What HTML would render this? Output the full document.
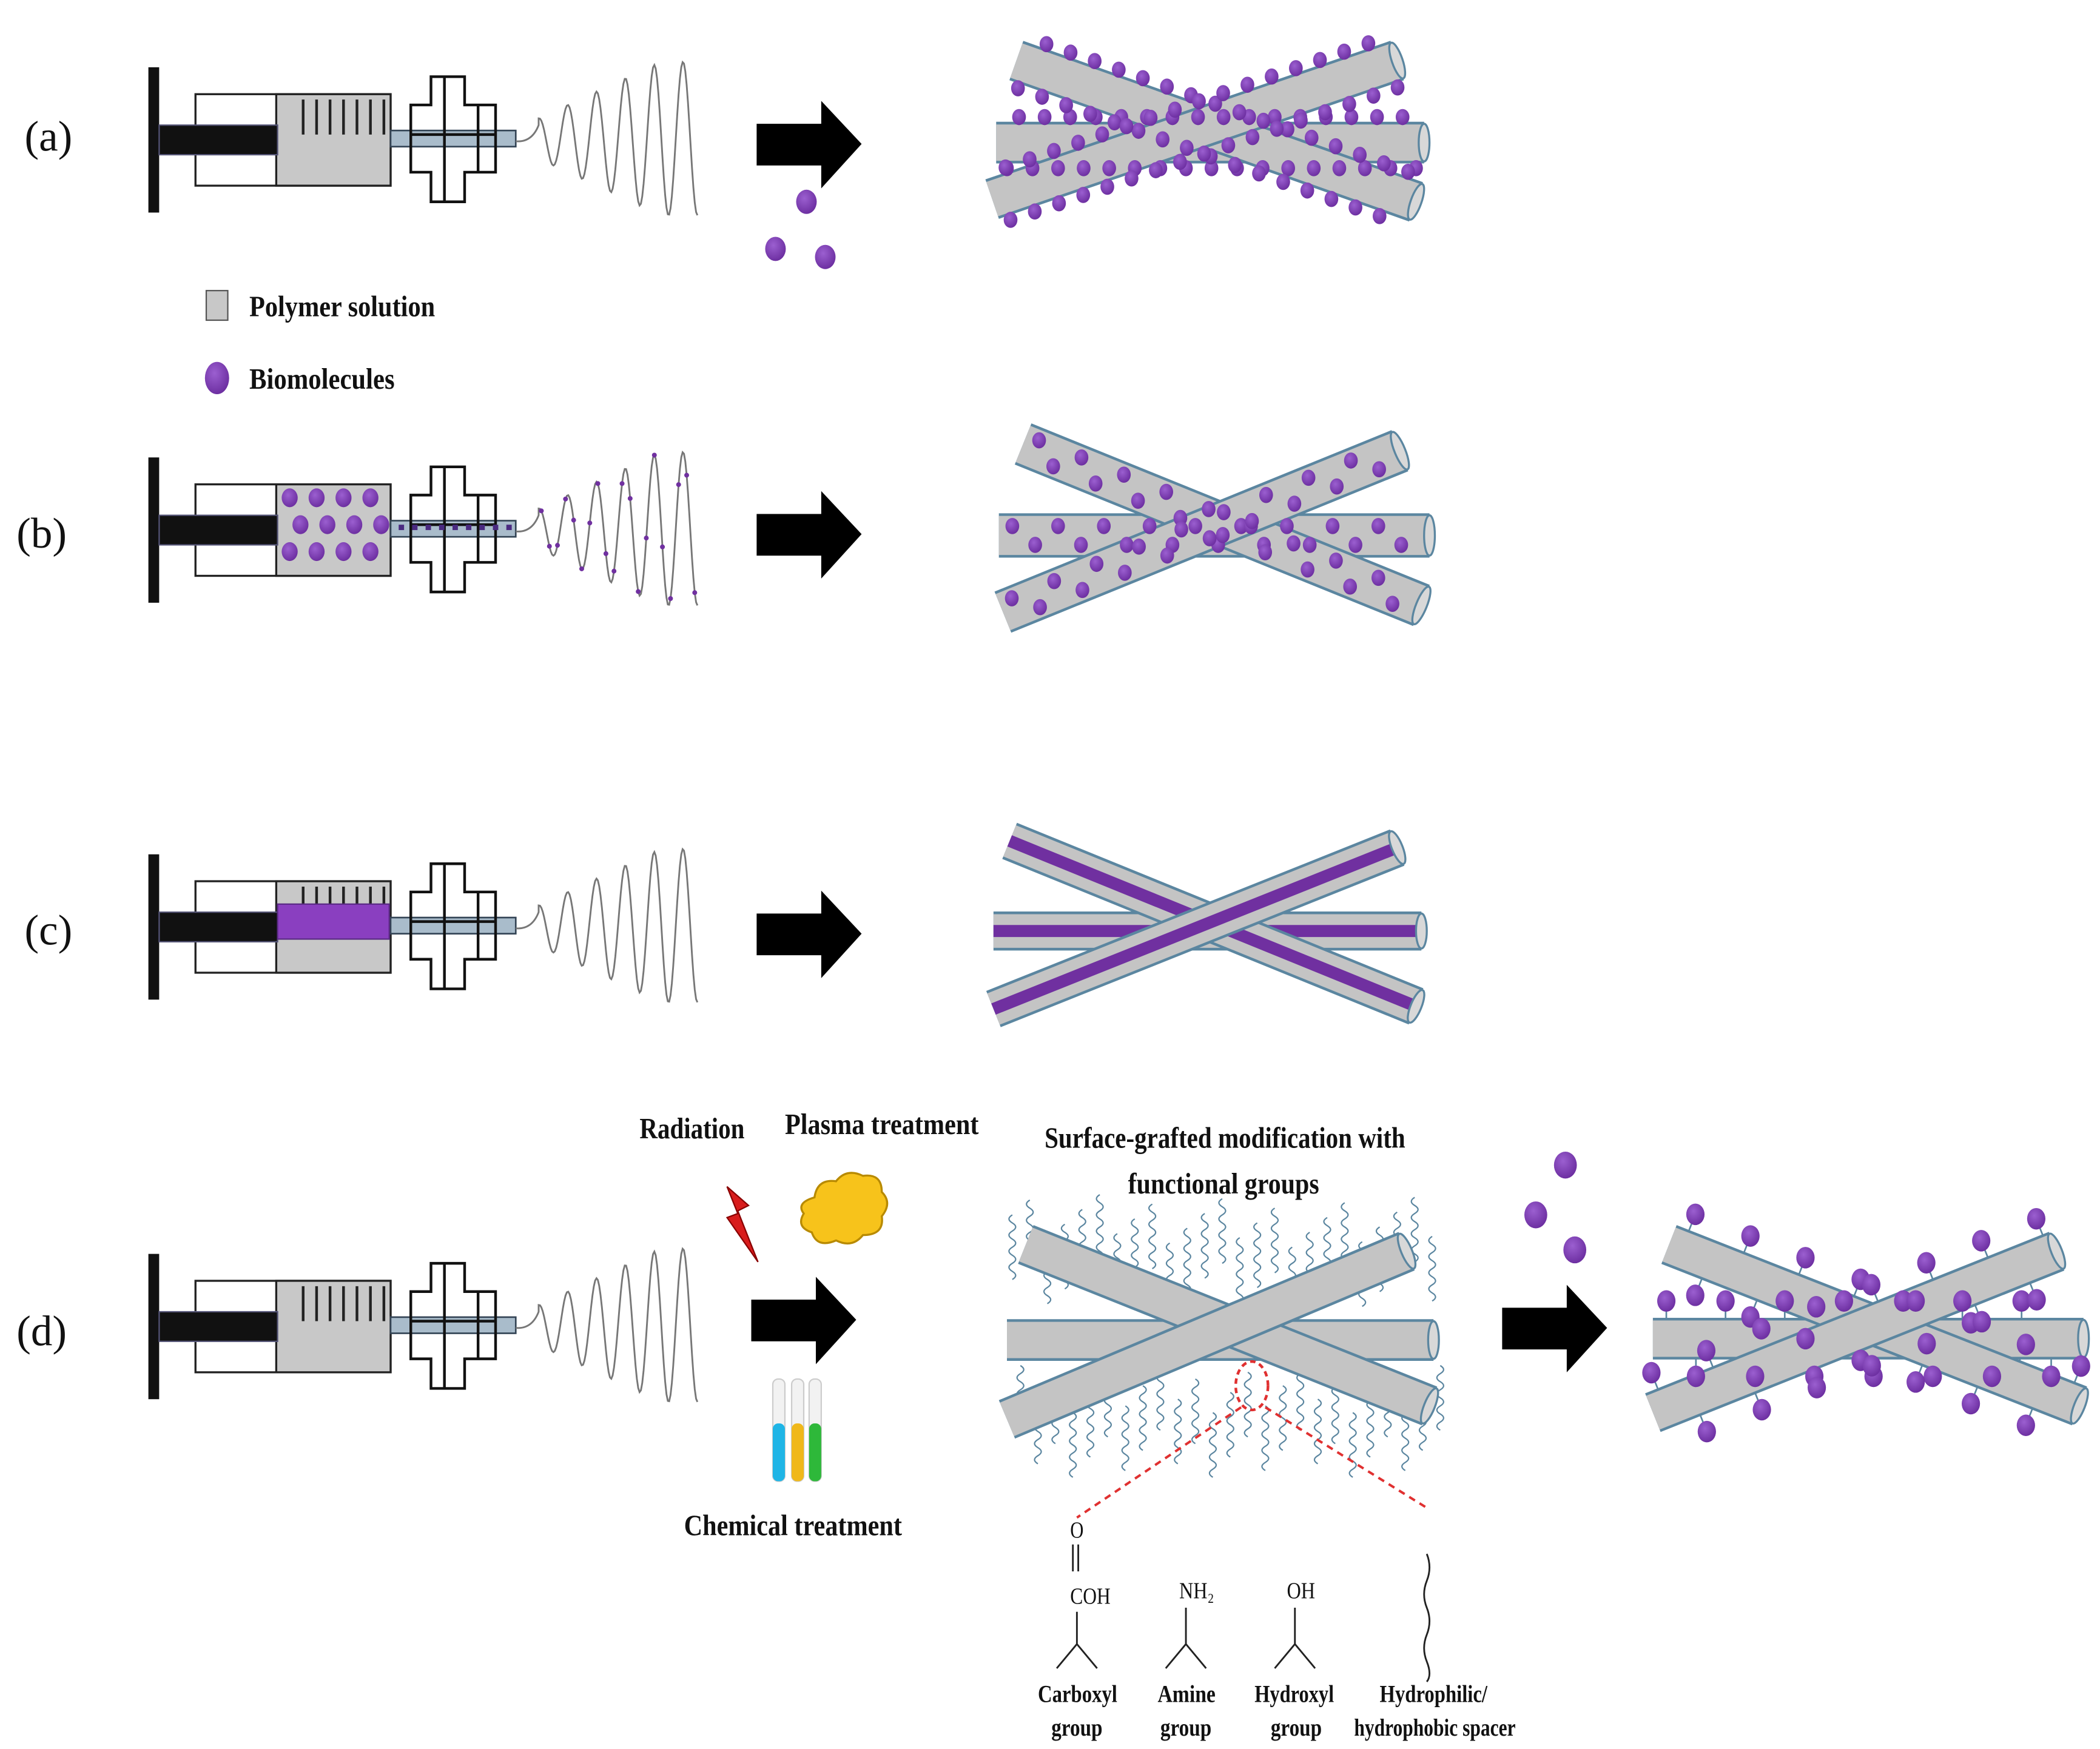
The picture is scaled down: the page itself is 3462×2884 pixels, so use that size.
<!DOCTYPE html>
<html><head><meta charset="utf-8"><style>
html,body{margin:0;padding:0;background:#fff}
svg{display:block}
text{font-family:"Liberation Serif",serif;fill:#111}
.b{font-weight:bold}
</style></head><body>
<svg id="s" width="3462" height="2884" viewBox="0 0 1560 1300" xmlns="http://www.w3.org/2000/svg">
<defs>
<radialGradient id="pg" cx="0.4" cy="0.35" r="0.7"><stop offset="0" stop-color="#9b5fd0"/><stop offset="1" stop-color="#6a2c9e"/></radialGradient>
<g id="syr">
<rect x="110" y="50" width="8" height="108" fill="#111"/>
<rect x="145" y="70" width="145" height="68" fill="#fff" stroke="#222" stroke-width="1.5"/>
<rect x="205" y="70" width="85" height="68" fill="#c8c8c8" stroke="#222" stroke-width="1.5"/>
<rect x="118" y="93" width="88" height="22" fill="#111" stroke="#557" stroke-width="1"/>
<rect x="290" y="97" width="93" height="12" fill="#a9bccb" stroke="#345" stroke-width="1.2"/>
<path d="M320 57H345V78H368V128H345V150H320V128H305V78H320Z M330 57V150 M305 100H368 M355 78V128" fill="none" stroke="#111" stroke-width="2"/>
</g>
<g id="pl"><path d="M225 74V100M235 74V100M245 74V100M255 74V100M265 74V100M275 74V100M285 74V100" stroke="#222" stroke-width="2"/></g>
<g id="arr"><path d="M562 92H610V75L640 107L610 140V123H562Z" fill="#000"/></g>
</defs>
<g id="main"></g>
<text x="18" y="112" font-size="32">(a)</text>
<text x="12" y="407" font-size="32">(b)</text>
<text x="18" y="702" font-size="32">(c)</text>
<text x="12" y="1000" font-size="32">(d)</text>
<rect x="153" y="216" width="16" height="22" fill="#c8c8c8" stroke="#555"/>
<text x="185" y="235" font-size="22" class="b" textLength="138" lengthAdjust="spacingAndGlyphs">Polymer solution</text>
<ellipse cx="161" cy="281" rx="9" ry="12" fill="url(#pg)"/>
<text x="185" y="289" font-size="22" class="b" textLength="108" lengthAdjust="spacingAndGlyphs">Biomolecules</text>
<text x="475" y="846" font-size="22" class="b" textLength="78" lengthAdjust="spacingAndGlyphs">Radiation</text>
<text x="583" y="843" font-size="22" class="b" textLength="144" lengthAdjust="spacingAndGlyphs">Plasma treatment</text>
<text x="776" y="853" font-size="22" class="b" textLength="268" lengthAdjust="spacingAndGlyphs">Surface-grafted modification with</text>
<text x="838" y="887" font-size="22" class="b" textLength="142" lengthAdjust="spacingAndGlyphs">functional groups</text>
<text x="508" y="1141" font-size="22" class="b" textLength="162" lengthAdjust="spacingAndGlyphs">Chemical treatment</text>
<text x="795" y="1143" font-size="17" textLength="10" lengthAdjust="spacingAndGlyphs">O</text>
<text x="795" y="1192" font-size="17" textLength="30" lengthAdjust="spacingAndGlyphs">COH</text>
<text x="876" y="1188" font-size="17" textLength="26" lengthAdjust="spacingAndGlyphs">NH₂</text>
<text x="956" y="1188" font-size="17" textLength="21" lengthAdjust="spacingAndGlyphs">OH</text>
<g class="b" font-size="18" font-weight="bold">
<text x="771" y="1265" textLength="59" lengthAdjust="spacingAndGlyphs">Carboxyl</text>
<text x="781" y="1290" textLength="38" lengthAdjust="spacingAndGlyphs">group</text>
<text x="860" y="1265" textLength="43" lengthAdjust="spacingAndGlyphs">Amine</text>
<text x="862" y="1290" textLength="38" lengthAdjust="spacingAndGlyphs">group</text>
<text x="932" y="1265" textLength="59" lengthAdjust="spacingAndGlyphs">Hydroxyl</text>
<text x="944" y="1290" textLength="38" lengthAdjust="spacingAndGlyphs">group</text>
<text x="1025" y="1265" textLength="80" lengthAdjust="spacingAndGlyphs">Hydrophilic/</text>
<text x="1006" y="1290" textLength="120" lengthAdjust="spacingAndGlyphs">hydrophobic spacer</text>
</g>
</svg>
<script>
var M=document.getElementById('main'),H='';
function use(id,dy,dx){H+='<use href="#'+id+'" transform="translate('+(dx||0)+','+dy+')"/>';}
function wave(dy,dots){var cy=103+dy,d='M383 '+(cy+2)+' Q395 '+(cy+3)+' 400 '+(cy-10),pts=[];
 for(var x=400;x<=518;x+=1){var t=(x-400)/118,a=15+42*Math.min(1,t*1.3);var y=cy-Math.sin((x-400)/118*Math.PI*11+Math.PI/2)*a;d+=' L'+x+' '+y.toFixed(1);if(dots&&x%6==0)pts.push([x,y]);}
 H+='<path d="'+d+'" fill="none" stroke="#777" stroke-width="1.3"/>';
 pts.forEach(function(p){H+='<circle cx="'+p[0]+'" cy="'+p[1].toFixed(1)+'" r="1.8" fill="#7030a0"/>';});}
function rod(x1,y1,x2,y2,w,core){H+='<line x1="'+x1+'" y1="'+y1+'" x2="'+x2+'" y2="'+y2+'" stroke="#5b86a0" stroke-width="'+(w+3)+'"/>';
 H+='<line x1="'+x1+'" y1="'+y1+'" x2="'+x2+'" y2="'+y2+'" stroke="#c4c4c4" stroke-width="'+(w-1)+'"/>';
 if(core)H+='<line x1="'+x1+'" y1="'+y1+'" x2="'+x2+'" y2="'+y2+'" stroke="#7030a0" stroke-width="9"/>';
 var ang=Math.atan2(y2-y1,x2-x1)*180/Math.PI;
 H+='<ellipse cx="'+x2+'" cy="'+y2+'" rx="4" ry="'+(w/2)+'" transform="rotate('+ang+' '+x2+' '+y2+')" fill="#d8d8d8" stroke="#5b86a0" stroke-width="1.5"/>';}
function dot(x,y,r){H+='<ellipse cx="'+x.toFixed(1)+'" cy="'+y.toFixed(1)+'" rx="'+(r*0.85)+'" ry="'+r+'" fill="url(#pg)"/>';}
function along(r,fn,step,st){var L=Math.hypot(r[2]-r[0],r[3]-r[1]),ux=(r[2]-r[0])/L,uy=(r[3]-r[1])/L;for(var s=(st||10);s<L-5;s+=step)fn(r[0]+ux*s,r[1]+uy*s,-uy,ux,s);}
use('syr',0);use('syr',290);use('syr',585);use('syr',882);
use('pl',0);use('pl',585);use('pl',882);
for(var i=0;i<4;i++)for(var j=0;j<3;j++)dot(215+i*20+(j%2)*8,370+j*20,7);
H+='<rect x="206" y="672" width="83" height="26" fill="#8a3fc0" stroke="#5b2a85"/>';
for(var x=296;x<382;x+=10)H+='<rect x="'+x+'" y="390" width="4" height="4" fill="#4a2a80"/>';
wave(0);wave(290,true);wave(585);wave(882);
use('arr',0);use('arr',290);use('arr',587);use('arr',874,-4);use('arr',880,554);
var A=[[740,106,1058,106],[755,45,1052,150],[737,148,1038,45]];
A.forEach(function(r){rod(r[0],r[1],r[2],r[3],28);});
A.forEach(function(r){along(r,function(x,y,nx,ny){dot(x+nx*19,y+ny*19,6);},19,8);along(r,function(x,y,nx,ny){dot(x-nx*19,y-ny*19,6);},19,17);});
dot(599,150,9);dot(576,185,9);dot(613,191,9);
var B=[[742,398,1062,398],[760,330,1056,450],[745,455,1040,335]];
B.forEach(function(r){rod(r[0],r[1],r[2],r[3],30);});
B.forEach(function(r){along(r,function(x,y,nx,ny,s){var k=(Math.floor(s/17)%2)?1:-1;dot(x+nx*7*k,y+ny*7*k,6);},17);});
[[738,692,1056,692],[750,625,1052,748],[738,750,1038,630]].forEach(function(r){rod(r[0],r[1],r[2],r[3],26,true);});
function sq(x,y,len,dir){var d='M'+x+' '+y;for(var i=1;i<=len;i++)d+=' Q'+(x+(i%2?5:-5))+' '+(y+dir*(i*6-3))+' '+x+' '+(y+dir*i*6);H+='<path d="'+d+'" fill="none" stroke="#5b86a0" stroke-width="1"/>';}
for(var x=752;x<1066;x+=13){sq(x,975-((x*7)%40),8,-1);sq(x+6,1015+((x*5)%40),8,1);}
var D=[[748,996,1065,996],[762,925,1062,1045],[748,1055,1045,930]];
D.forEach(function(r){rod(r[0],r[1],r[2],r[3],28);});
H+='<ellipse cx="930" cy="1030" rx="12" ry="18" fill="none" stroke="#e03030" stroke-width="2" stroke-dasharray="4 3"/>';
H+='<path d="M922 1046L800 1128M940 1046L1062 1122" stroke="#e03030" stroke-width="1.8" stroke-dasharray="5 4" fill="none"/>';
H+='<path d="M797 1148V1168M801 1148V1168M800 1198V1222L785 1240M800 1222L815 1240M881 1195V1222L866 1240M881 1222L896 1240M962 1195V1222L947 1240M962 1222L977 1240M1060 1155 q4 10 0 20 q-4 10 0 20 q4 10 0 20 q-4 10 0 20 q4 10 0 15" stroke="#222" stroke-width="1.3" fill="none"/>';
H+='<path d="M540 882L556 896L548 900L563 938L540 905L548 902Z" fill="#d81c1c" stroke="#800" stroke-width="1"/>';
H+='<path d="M605 890q2-14 16-12q8-10 20-4q14-2 14 12q8 8 0 18q2 14-14 14q-8 10-20 4q-14 6-18-6q-12-4-6-14q-6-8 8-12z" fill="#f7c31b" stroke="#b88a00" stroke-width="1.5"/>';
[[578,'#1fb5e6'],[592,'#f0b81a'],[605,'#2eb83a']].forEach(function(t){H+='<rect x="'+(t[0]-4)+'" y="1025" width="9" height="76" rx="4" fill="#f2f2f2" stroke="#ccc"/>';H+='<rect x="'+(t[0]-4)+'" y="1058" width="9" height="43" rx="4" fill="'+t[1]+'"/>';});
dot(1163,866,10);dot(1141,903,10);dot(1170,929,10);
var R=[[1228,995,1548,995],[1240,925,1545,1045],[1228,1050,1528,930]];
var stems='';
R.forEach(function(r){along(r,function(x,y,nx,ny,s){var k=(Math.floor(s/22)%2)?1:-1;var ex=x+nx*26*k,ey=y+ny*26*k;stems+='<line x1="'+x.toFixed(1)+'" y1="'+y.toFixed(1)+'" x2="'+ex.toFixed(1)+'" y2="'+ey.toFixed(1)+'" stroke="#5b86a0" stroke-width="1.2"/>';},22);});
H+=stems;
R.forEach(function(r){rod(r[0],r[1],r[2],r[3],28);});
R.forEach(function(r){along(r,function(x,y,nx,ny,s){var k=(Math.floor(s/22)%2)?1:-1;dot(x+nx*28*k,y+ny*28*k,8);},22);});
M.innerHTML=H;
</script>
</body></html>
